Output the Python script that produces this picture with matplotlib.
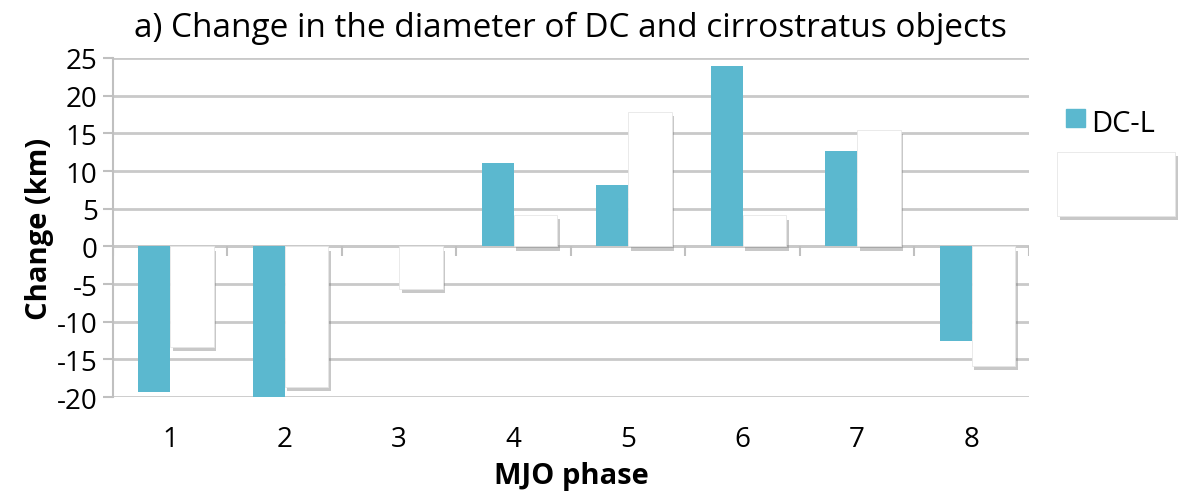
import matplotlib.pyplot as plt
import matplotlib.patheffects as pe
import numpy as np
from matplotlib.patches import Rectangle

phases = [1, 2, 3, 4, 5, 6, 7, 8]
dc_l = [-19.3, -20.0, 0.1, 11.0, 8.1, 24.0, 12.6, -12.6]
cirro = [-13.3, -18.6, -5.6, 4.2, 17.8, 4.1, 15.5, -15.9]
yticks = [-20, -15, -10, -5, 0, 5, 10, 15, 20, 25]

plt.rcParams['font.family'] = ['Open Sans', 'DejaVu Sans']
plt.rcParams['axes.unicode_minus'] = False

fig = plt.figure(figsize=(11.84, 5.02), dpi=100)
ax = fig.add_axes([0.0954, 0.207, 0.7736, 0.6755])

x = np.arange(len(phases))
teal = '#5bb8cf'
shadow = [pe.SimplePatchShadow(offset=(2, -3), shadow_rgbFace='#777777', alpha=0.4), pe.Normal()]

# teal bars end at the category centre, white bars start there
ax.bar(x - 0.28, dc_l, width=0.28, align='edge', color=teal, zorder=3)
cb = ax.bar(x, cirro, width=0.38, align='edge', color='white', edgecolor='#e6e6e6',
            linewidth=0.6, zorder=4)
for p in cb:
    p.set_path_effects(shadow)

ax.set_xlim(-0.5, len(x) - 0.5)
ax.set_ylim(-20, 25)
ax.set_yticks(yticks)
ax.yaxis.grid(True, color='#c9c9c9', linewidth=2)
ax.set_axisbelow(True)
ax.axhline(0, color='#c9c9c9', linewidth=2, zorder=1)
ax.vlines(np.arange(len(x) + 1) - 0.5, -1.3, 0, color='#c0c0c0', linewidth=1.5, zorder=1)

for s in ['top', 'right', 'bottom']:
    ax.spines[s].set_visible(False)
ax.spines['left'].set_color('#c0c0c0')
ax.spines['left'].set_linewidth(1.5)

ax.set_xticks(x)
ax.set_xticklabels([str(p) for p in phases])
ax.tick_params(axis='x', length=0, labelsize=20, pad=20)
ax.tick_params(axis='y', length=7, color='#c0c0c0', width=1.5, labelsize=20, pad=4)

ax.set_xlabel('MJO phase', fontsize=21, fontweight='bold', labelpad=6)
ax.set_ylabel('Change (km)', fontsize=21, fontweight='bold', labelpad=2)
ax.set_title('a) Change in the diameter of DC and cirrostratus objects', fontsize=24, pad=16)

# legend
fig.patches.append(Rectangle((1066/1184, 1-128/502), 19/1184, 18/502, transform=fig.transFigure,
                             color=teal, figure=fig))
fig.text(1091/1184, 1-124/502, 'DC-L', fontsize=21, va='center', ha='left')
box = Rectangle((1057/1184, 1-217/502), 118/1184, 64/502, transform=fig.transFigure,
                facecolor='white', edgecolor='#e6e6e6', linewidth=0.6, figure=fig)
box.set_path_effects(shadow)
fig.patches.append(box)

fig.savefig('out.png', dpi=100)
